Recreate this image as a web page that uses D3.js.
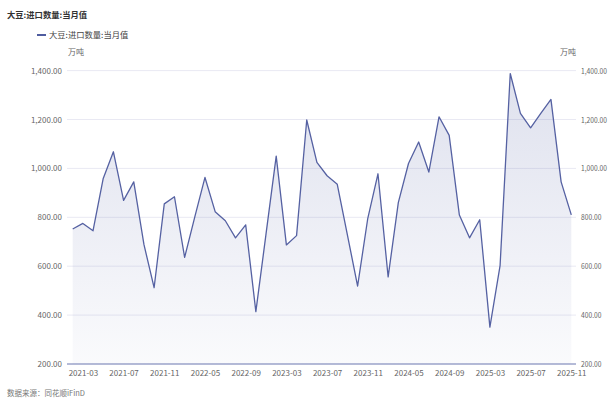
<!DOCTYPE html>
<html>
<head>
<meta charset="utf-8">
<script src="https://cdn.jsdelivr.net/npm/d3@7"></script>
<style>
  body { margin: 0; background: #fff; }
  svg text { font-family: "Noto Sans CJK SC", "Noto Sans", sans-serif; }
</style>
</head>
<body>
<svg width="611" height="402"></svg>
<script>
// months shown on the x axis (Jan/Feb are missing from 2022 on)
var months = ["2021-02",
  "2021-03","2021-04","2021-05","2021-06","2021-07","2021-08","2021-09","2021-10","2021-11","2021-12",
  "2022-03","2022-04","2022-05","2022-06","2022-07","2022-08","2022-09","2022-10","2022-11","2022-12",
  "2023-03","2023-04","2023-05","2023-06","2023-07","2023-08","2023-09","2023-10","2023-11","2023-12",
  "2024-03","2024-04","2024-05","2024-06","2024-07","2024-08","2024-09","2024-10","2024-11","2024-12",
  "2025-03","2025-04","2025-05","2025-06","2025-07","2025-08","2025-09","2025-10","2025-11"];

// soybean imports, 10k tonnes
var imports = [752,
  775,745,959,1068,869,945,689,512,855,884,
  636,802,963,823,786,716,769,414,732,1050,
  687,725,1198,1025,970,935,727,519,796,978,
  556,860,1020,1108,985,1211,1135,809,716,790,
  351,602,1388,1225,1166,1225,1282,945,810];

var yTicks = [200, 400, 600, 800, 1000, 1200, 1400];
var xLabels = ["2021-03","2021-07","2021-11","2022-05","2022-09","2023-03","2023-07",
  "2023-11","2024-05","2024-09","2025-03","2025-07","2025-11"];

var svg = d3.select("svg");
// plot box (note: "top" is taken by window.top, so prefix these)
var plotLeft = 67, plotRight = 576, plotTop = 70.6, plotBottom = 364;

var x = d3.scalePoint()
    .domain(months)
    .range([72.7, 571.3]);

var y = d3.scaleLinear()
    .domain([200, 1400])
    .range([plotBottom, plotTop]);

// gradient under the line
var grad = svg.append("defs").append("linearGradient")
    .attr("id", "fillGrad")
    .attr("gradientUnits", "userSpaceOnUse")
    .attr("x1", 0).attr("y1", plotTop).attr("x2", 0).attr("y2", plotBottom);
grad.append("stop").attr("offset", "0%").attr("stop-color", "#5b68a8").attr("stop-opacity", 0.2);
grad.append("stop").attr("offset", "100%").attr("stop-color", "#5b68a8").attr("stop-opacity", 0.03);

// title + legend + units
svg.append("text")
    .attr("x", 7).attr("y", 18)
    .attr("font-size", 8.3).attr("font-weight", "bold").attr("fill", "#333")
    .text("大豆:进口数量:当月值");

svg.append("line")
    .attr("x1", 37).attr("x2", 46).attr("y1", 35).attr("y2", 35)
    .attr("stroke", "#4f5c9f").attr("stroke-width", 2);
svg.append("text")
    .attr("x", 49).attr("y", 38)
    .attr("font-size", 8.3).attr("fill", "#444")
    .text("大豆:进口数量:当月值");

svg.append("text")
    .attr("x", 68).attr("y", 55)
    .attr("font-size", 8).attr("fill", "#666")
    .text("万吨");
svg.append("text")
    .attr("x", 576).attr("y", 55)
    .attr("font-size", 8).attr("fill", "#666")
    .attr("text-anchor", "end")
    .text("万吨");

// gridlines
svg.append("g")
  .selectAll("line")
  .data(yTicks.slice(1))
  .enter().append("line")
    .attr("x1", plotLeft).attr("x2", plotRight)
    .attr("y1", function(d) { return y(d); })
    .attr("y2", function(d) { return y(d); })
    .attr("stroke", "#e9e9f3").attr("stroke-width", 1);

// y axes both sides
var fmt = d3.format(",.2f");
var yl = svg.append("g")
    .attr("transform", "translate(" + plotLeft + ",0)")
    .call(d3.axisLeft(y).tickValues(yTicks).tickSize(0).tickPadding(5).tickFormat(fmt));
var yr = svg.append("g")
    .attr("transform", "translate(" + plotRight + ",0)")
    .call(d3.axisRight(y).tickValues(yTicks).tickSize(0).tickPadding(5).tickFormat(fmt));
[yl, yr].forEach(function(g) {
  g.select(".domain").remove();
  g.selectAll("text")
      .attr("font-size", 8)
      .attr("fill", "#666")
      .style("font-family", "'Noto Sans CJK SC', 'Noto Sans', sans-serif");
});

// right labels are squeezed in the original so they fit before the edge
var widest = d3.max(yr.selectAll("text").nodes(), function(n) { return n.getComputedTextLength(); });
var squeeze = Math.min(1, 26 / widest);
yr.selectAll("text").each(function() {
  var w = this.getComputedTextLength();
  d3.select(this).attr("textLength", w * squeeze).attr("lengthAdjust", "spacingAndGlyphs");
});

// area + line
var area = d3.area()
    .x(function(d, i) { return x(months[i]); })
    .y0(y(200))
    .y1(function(d) { return y(d); });
var line = d3.line()
    .x(function(d, i) { return x(months[i]); })
    .y(function(d) { return y(d); });

svg.append("path")
    .datum(imports)
    .attr("d", area)
    .attr("fill", "url(#fillGrad)");
svg.append("path")
    .datum(imports)
    .attr("d", line)
    .attr("fill", "none")
    .attr("stroke", "#5561a2")
    .attr("stroke-width", 1.3)
    .attr("stroke-linejoin", "round");

// x axis
var xa = svg.append("g")
    .attr("transform", "translate(0," + plotBottom + ")")
    .call(d3.axisBottom(x).tickValues(xLabels).tickSize(0).tickPadding(6));
xa.select(".domain").remove();
xa.selectAll("text")
    .attr("font-size", 8)
    .attr("fill", "#666")
    .style("font-family", "'Noto Sans CJK SC', 'Noto Sans', sans-serif");
svg.append("line")
    .attr("x1", plotLeft).attr("x2", plotRight)
    .attr("y1", plotBottom).attr("y2", plotBottom)
    .attr("stroke", "#6b77b0").attr("stroke-width", 1);

// source
svg.append("text")
    .attr("x", 7).attr("y", 396)
    .attr("font-size", 7.5).attr("fill", "#777")
    .text("数据来源：同花顺iFinD");
</script>
</body>
</html>
